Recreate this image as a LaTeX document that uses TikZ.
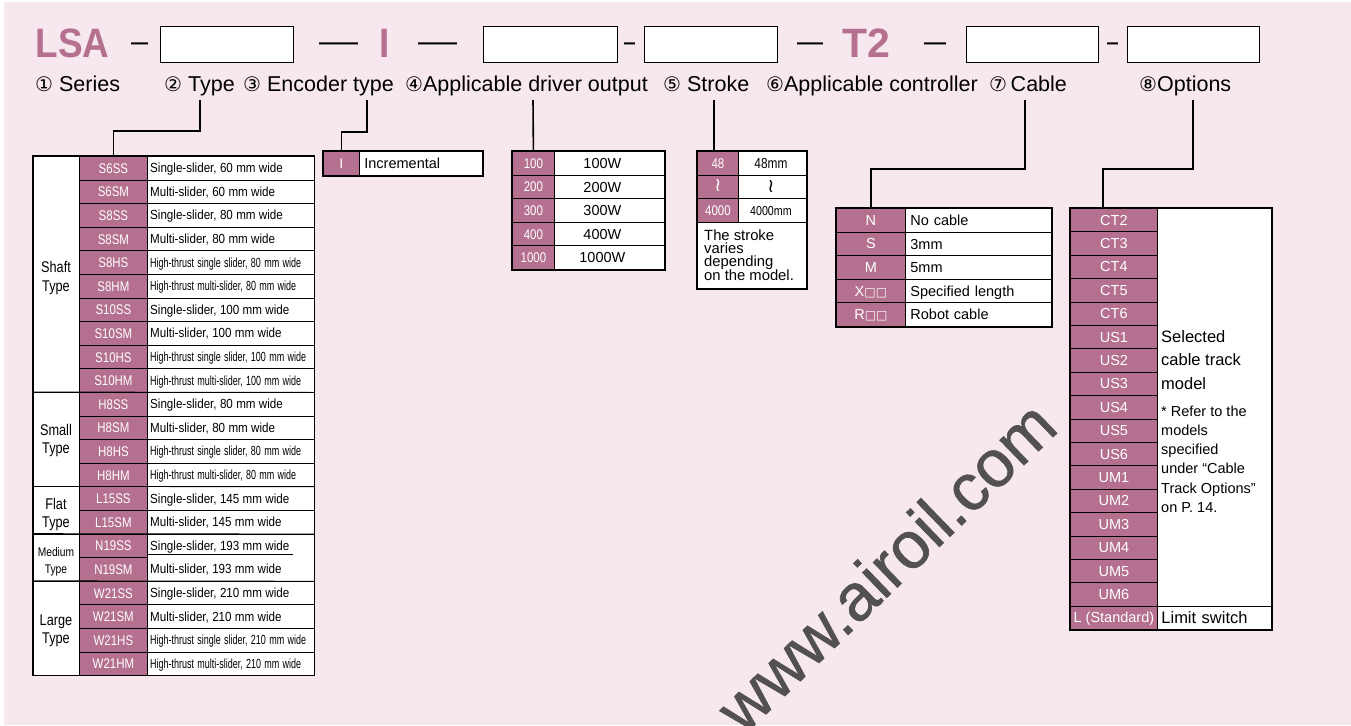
\documentclass[tikz,border=0pt]{standalone}
\usepackage{fontspec}
\usepackage{graphicx}
\setmainfont{Liberation Sans}
\newfontfamily\cond[FakeStretch=0.82]{Liberation Sans}
\newfontfamily\descf[FakeStretch=0.88]{Liberation Sans}
\newfontfamily\condn[FakeStretch=0.68]{Liberation Sans}
\newfontfamily\hdrfont[FakeStretch=0.90]{Liberation Sans}
\newfontfamily\hdrfontw[FakeStretch=1.0]{Liberation Sans}
\newfontfamily\wmfont[FakeBold=1]{Liberation Sans}
\newfontfamily\dvsym{DejaVu Sans}
\usetikzlibrary{calc}
\definecolor{bgpink}{RGB}{247,231,239}
\definecolor{mauve}{RGB}{181,112,143}
\definecolor{wmgray}{RGB}{82,80,81}
\newcommand{\cdig}[1]{{\dvsym\fontsize{20}{20}\selectfont #1}}
\newcommand{\dsh}[1]{\scalebox{#1}[1]{\fontsize{30}{30}\selectfont —}}
\begin{document}
\begin{tikzpicture}[x=1pt,y=-1pt,
  hbox/.style={draw=black, line width=1.4pt, fill=white, minimum width=133pt, minimum height=36pt, inner sep=0pt, anchor=north west},
  hdr/.style={anchor=base west, inner sep=0pt, text=mauve},
  dashn/.style={anchor=base west, inner sep=0pt, text=black},
  lbl/.style={anchor=base west, inner sep=0pt, font=\fontsize{21.5}{21.5}\selectfont},
  wire/.style={line width=1.6pt, line join=miter},
  tout/.style={line width=1.6pt},
  tin/.style={line width=0.8pt},
  ccell/.style={draw=black, line width=0.8pt, fill=mauve, text=white, inner sep=0pt, anchor=north west, minimum height=23.6pt, text height=10pt, text depth=0pt},
  dcell/.style={fill=white, inner ysep=0pt, inner xsep=3pt, anchor=north west, minimum height=23.6pt, text width=161pt, align=left, text height=9.3pt, text depth=0pt},
  gcell/.style={draw=black, line width=0.8pt, fill=white, minimum width=46pt, inner sep=0pt, anchor=north west},
  vcell/.style={draw=black, line width=0.8pt, fill=white, inner sep=0pt, anchor=north west, minimum height=23.6pt, text height=10.4pt, text depth=0pt},
  lcell/.style={draw=black, line width=0.8pt, fill=white, inner ysep=0pt, anchor=north west, minimum height=23.6pt, align=left, text height=10.4pt, text depth=0pt},
  gtxt/.style={anchor=base, inner sep=0pt, font=\cond\fontsize{15.5}{15.5}\selectfont},
  ntxt/.style={anchor=base west, inner sep=0pt}]
\useasboundingbox (0,0) rectangle (1351,725);
\fill[white] (0,0) rectangle (1351,725);
\fill[bgpink] (4,2) rectangle (1351,725);

% ---------- watermark ----------
\node[anchor=base, inner sep=0pt, rotate=44, text=wmgray, font=\wmfont\fontsize{66}{66}\selectfont] (wm) at (902,583) {www.airoil.com};

% ---------- header ----------
\node[hdr, font=\hdrfont\bfseries\fontsize{41}{41}\selectfont] (lsa) at (35.5,57.5) {LSA};
\node[dashn] (d1) at (131,51.8) {\dsh{0.567}};
\node[hbox] (b1) at (160,26) {};
\node[dashn] (d2) at (319,51.8) {\dsh{1.3}};
\node[hdr, font=\hdrfont\bfseries\fontsize{41}{41}\selectfont] (enc) at (379.5,57.5) {I};
\node[dashn] (d3) at (418,51.8) {\dsh{1.3}};
\node[hbox, minimum width=134pt] (b2) at (483,26) {};
\node[dashn] (d4) at (624,51.8) {\dsh{0.367}};
\node[hbox] (b3) at (644,26) {};
\node[dashn] (d5) at (797,51.8) {\dsh{0.867}};
\node[hdr, font=\hdrfontw\bfseries\fontsize{41}{41}\selectfont] (t2) at (842,57.5) {T2};
\node[dashn] (d6) at (924,51.8) {\dsh{0.733}};
\node[hbox, minimum width=132pt] (b4) at (966,26) {};
\node[dashn] (d7) at (1107,51.8) {\dsh{0.367}};
\node[hbox, minimum width=132pt] (b5) at (1127,26) {};

% ---------- labels ----------
\node[lbl] (l1) at (35,91) {\cdig{①} Series};
\node[lbl] (l2) at (164,91) {\cdig{②} Type};
\node[lbl] (l3) at (243,91) {\cdig{③} Encoder type};
\node[lbl] (l4) at (405,91) {\cdig{④}Applicable driver output};
\node[lbl] (l5) at (663,91) {\cdig{⑤} Stroke};
\node[lbl] (l6) at (766,91) {\cdig{⑥}Applicable controller};
\node[lbl] (l7) at (989,91) {\cdig{⑦}\,Cable};
\node[lbl] (l8) at (1139,91) {\cdig{⑧}Options};

% ---------- type table ----------
\foreach \c/\d/\nw [count=\i from 0] in {
  S6SS/{Single-slider, 60 mm wide}/0,
  S6SM/{Multi-slider, 60 mm wide}/0,
  S8SS/{Single-slider, 80 mm wide}/0,
  S8SM/{Multi-slider, 80 mm wide}/0,
  S8HS/{High-thrust single slider, 80 mm wide}/1,
  S8HM/{High-thrust multi-slider, 80 mm wide}/1,
  S10SS/{Single-slider, 100 mm wide}/0,
  S10SM/{Multi-slider, 100 mm wide}/0,
  S10HS/{High-thrust single slider, 100 mm wide}/1,
  S10HM/{High-thrust multi-slider, 100 mm wide}/1,
  H8SS/{Single-slider, 80 mm wide}/0,
  H8SM/{Multi-slider, 80 mm wide}/0,
  H8HS/{High-thrust single slider, 80 mm wide}/1,
  H8HM/{High-thrust multi-slider, 80 mm wide}/1,
  L15SS/{Single-slider, 145 mm wide}/0,
  L15SM/{Multi-slider, 145 mm wide}/0,
  N19SS/{Single-slider, 193 mm wide}/0,
  N19SM/{Multi-slider, 193 mm wide}/0,
  W21SS/{Single-slider, 210 mm wide}/0,
  W21SM/{Multi-slider, 210 mm wide}/0,
  W21HS/{High-thrust single slider, 210 mm wide}/1,
  W21HM/{High-thrust multi-slider, 210 mm wide}/1} {
  \node[dcell] (td\i) at (147,{156+23.6*\i}) {\ifnum\nw=1 \condn\else\descf\fi\fontsize{13.2}{13.2}\selectfont \d};
}
\foreach \c [count=\i from 0] in {S6SS,S6SM,S8SS,S8SM,S8HS,S8HM,S10SS,S10SM,S10HS,S10HM,H8SS,H8SM,H8HS,H8HM,L15SS,L15SM,N19SS,N19SM,W21SS,W21SM,W21HS,W21HM} {
  \node[ccell, minimum width=68pt, font=\cond\fontsize{14}{14}\selectfont] (tc\i) at (79,{156+23.6*\i}) {\c};
}
\foreach \i in {0,...,15,17,18,19,20} {
  \draw[tin] (td\i.south west) -- (td\i.south east);
}
\draw[tin] ($(td16.south west)+(0,-3)$) -- ($(td16.south west)+(146,-3)$);
\node[gcell, minimum height=236pt] (tg1) at (33,156) {};
\node[gcell, minimum height=94.4pt] (tg2) at (33,392) {};
\node[gcell, minimum height=47.2pt] (tg3) at (33,486.4) {};
\node[gcell, minimum height=47.2pt] (tg4) at (33,533.6) {};
\node[gcell, minimum height=94.4pt] (tg5) at (33,580.8) {};
\draw[tin] (tg2.north west) -- (td9.south east);
\draw[tin] (tg3.north west) -- (td13.south east);
\draw[tin] (tg4.north west) -- (td15.south east);
\draw[tin] (tg5.north west) -- (td17.south east);
\draw[tout] (tg1.north west) rectangle (td21.south east);
\node[gtxt] (g1a) at (56,272) {Shaft};
\node[gtxt] (g1b) at (56,291) {Type};
\node[gtxt] (g2a) at (56,435) {Small};
\node[gtxt] (g2b) at (56,453) {Type};
\node[gtxt] (g3a) at (56,509) {Flat};
\node[gtxt] (g3b) at (56,527) {Type};
\node[gtxt, font=\cond\fontsize{12.5}{12.5}\selectfont] (g4a) at (56,556) {Medium};
\node[gtxt, font=\cond\fontsize{12.5}{12.5}\selectfont] (g4b) at (56,573) {Type};
\node[gtxt] (g5a) at (56,625) {Large};
\node[gtxt] (g5b) at (56,643) {Type};

% ---------- encoder table ----------
\node[ccell, minimum width=36pt, minimum height=24pt, font=\fontsize{14}{14}\selectfont] (ec) at (323,151) {I};
\node[lcell, minimum height=24pt, inner xsep=5pt, text width=113pt, font=\fontsize{14.5}{14.5}\selectfont] (ed) at (359,151) {Incremental};
\draw[tout] (ec.north west) rectangle (ed.south east);

% ---------- driver table ----------
\foreach \c/\v [count=\i from 0] in {100/100W,200/200W,300/300W,400/400W,1000/1000W} {
  \node[ccell, minimum width=42pt, font=\cond\fontsize{14}{14}\selectfont] (dc\i) at (512,{151+23.6*\i}) {\c};
  \node[vcell, minimum width=110pt, font=\fontsize{14.5}{14.5}\selectfont] (dv\i) at (554,{151+23.6*\i}) {\v\hspace*{14pt}};
}
\draw[tout] (dc0.north west) rectangle (dv4.south east);

% ---------- stroke table ----------
\node[ccell, minimum width=41pt, font=\cond\fontsize{14}{14}\selectfont] (sc0) at (697,151) {48};
\node[vcell, minimum width=68pt, font=\cond\fontsize{14.5}{14.5}\selectfont] (sv0) at (738,151) {48mm\hspace*{3pt}};
\node[ccell, minimum width=41pt, font=\dvsym\fontsize{19}{19}\selectfont] (sc1) at (697,174.6) {≀};
\node[vcell, minimum width=68pt, font=\dvsym\fontsize{19}{19}\selectfont] (sv1) at (738,174.6) {≀\hspace*{3pt}};
\node[ccell, minimum width=41pt, font=\cond\fontsize{14}{14}\selectfont] (sc2) at (697,198.2) {4000};
\node[vcell, minimum width=68pt, font=\cond\fontsize{13}{13}\selectfont] (sv2) at (738,198.2) {4000mm\hspace*{3pt}};
\node[vcell, minimum width=109pt, minimum height=66.2pt] (sn) at (697,221.8) {};
\draw[tout] (sc0.north west) rectangle (sn.south east);
\node[ntxt, font=\fontsize{14.8}{14.8}\selectfont] (sn1) at (704,240) {The stroke};
\node[ntxt, font=\fontsize{14.8}{14.8}\selectfont] (sn2) at (704,253.4) {varies};
\node[ntxt, font=\fontsize{14.8}{14.8}\selectfont] (sn3) at (704,266.8) {depending};
\node[ntxt, font=\fontsize{14.8}{14.8}\selectfont] (sn4) at (704,280.2) {on the model.};

% ---------- cable table ----------
\foreach \c/\v [count=\i from 0] in {N/No cable,S/3mm,M/5mm,{X{\dvsym\fontsize{12}{12}\selectfont □□}}/Specified length,{R{\dvsym\fontsize{12}{12}\selectfont □□}}/Robot cable} {
  \node[ccell, minimum width=69pt, font=\fontsize{14.5}{14.5}\selectfont] (cc\i) at (836,{208+23.6*\i}) {\c};
  \node[lcell, minimum width=146pt, inner xsep=5pt, text width=136pt, font=\fontsize{14.5}{14.5}\selectfont] (cd\i) at (905,{208+23.6*\i}) {\v};
}
\draw[tout] (cc0.north west) rectangle (cd4.south east);

% ---------- options table ----------
\foreach \c [count=\i from 0] in {CT2,CT3,CT4,CT5,CT6,US1,US2,US3,US4,US5,US6,UM1,UM2,UM3,UM4,UM5,UM6} {
  \node[ccell, minimum width=87pt, minimum height=23.4pt, font=\fontsize{14.5}{14.5}\selectfont] (oc\i) at (1070,{208+23.4*\i}) {\c};
}
\node[vcell, minimum width=114pt, minimum height=397.8pt] (ob) at (1157,208) {};
\node[ccell, minimum width=87pt, minimum height=23.4pt, font=\fontsize{14.5}{14.5}\selectfont] (ol) at (1070,605.8) {L (Standard)};
\node[lcell, minimum width=114pt, minimum height=23.4pt, inner xsep=4pt, text width=106pt, text height=11.8pt, font=\fontsize{16.5}{16.5}\selectfont] (olv) at (1157,605.8) {Limit switch};
\draw[tout] (oc0.north west) rectangle (olv.south east);
\node[ntxt, font=\fontsize{16.5}{16.5}\selectfont] (o1) at (1161,342) {Selected};
\node[ntxt, font=\fontsize{16.5}{16.5}\selectfont] (o2) at (1161,365.5) {cable track};
\node[ntxt, font=\fontsize{16.5}{16.5}\selectfont] (o3) at (1161,389) {model};
\node[ntxt, font=\fontsize{14.5}{14.5}\selectfont] (o4) at (1161,416) {* Refer to the};
\node[ntxt, font=\fontsize{14.5}{14.5}\selectfont] (o5) at (1161,435.3) {models};
\node[ntxt, font=\fontsize{14.5}{14.5}\selectfont] (o6) at (1161,454.6) {specified};
\node[ntxt, font=\fontsize{14.5}{14.5}\selectfont] (o7) at (1161,473.9) {under “Cable};
\node[ntxt, font=\fontsize{14.5}{14.5}\selectfont] (o8) at (1161,493.2) {Track Options”};
\node[ntxt, font=\fontsize{14.5}{14.5}\selectfont] (o9) at (1161,512.5) {on P. 14.};

% ---------- connectors ----------
\coordinate (k2) at (200,100);
\coordinate (k3) at (367,100);
\coordinate (k4) at (533,100);
\coordinate (k5) at (714,100);
\coordinate (k7) at (1025,100);
\coordinate (k8) at (1193,100);
\coordinate (k8b) at (1103,169);
\draw[wire] (k2) -- ++(0,31) -| (tc0.north);
\draw[wire] (k3) -- ++(0,32) -| (ec.north);
\draw[wire] (k4) -- (dc0.north);
\draw[wire] (k5) -- (k5 |- sc0.north);
\draw[wire] (k7) -- ++(0,69) -| (cc0.north);
\draw[wire] (k8) |- (k8b) -- (k8b |- oc0.north);
\end{tikzpicture}
\end{document}
